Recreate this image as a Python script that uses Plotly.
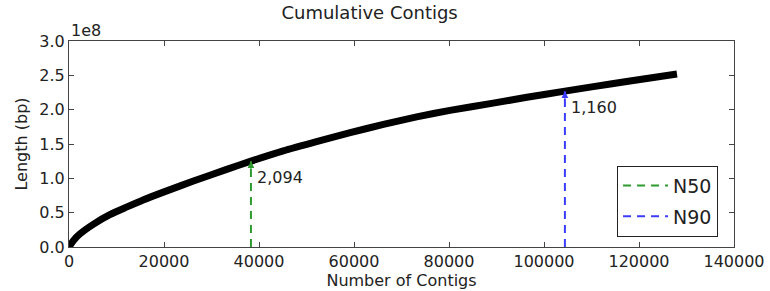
import plotly.graph_objects as go

# Cumulative contig length (bp) vs number of contigs
contig_counts = [0, 1000, 2300, 5100, 8600, 12100, 15600, 20300, 26200, 33200, 38300,
                 45100, 52100, 59200, 66200, 73200, 80200, 89300, 96400, 104400,
                 110400, 117400, 128000]
cumulative_length = [0.0, 0.10e8, 0.19e8, 0.33e8, 0.47e8, 0.58e8, 0.685e8, 0.81e8, 0.96e8,
                     1.13e8, 1.25e8, 1.40e8, 1.535e8, 1.665e8, 1.785e8, 1.895e8,
                     1.99e8, 2.095e8, 2.18e8, 2.27e8, 2.335e8, 2.41e8, 2.52e8]

marker_names = ["N50", "N90"]
marker_counts = [38300, 104400]
marker_lengths = [1.25e8, 2.27e8]
marker_labels = ["2,094", "1,160"]
marker_colors = ["#2f9a2f", "#3c3cff"]

x_ticks = [0, 20000, 40000, 60000, 80000, 100000, 120000, 140000]
y_ticks = [0, 0.5e8, 1.0e8, 1.5e8, 2.0e8, 2.5e8, 3.0e8]
y_tick_text = ["0.0", "0.5", "1.0", "1.5", "2.0", "2.5", "3.0"]

FONT = "DejaVu Sans"
TXT = "#222222"

fig = go.Figure()
fig.add_trace(go.Scatter(x=contig_counts, y=cumulative_length, mode="lines",
                         line=dict(color="black", width=7, shape="spline", smoothing=0.6),
                         showlegend=False, hoverinfo="skip"))

for name, xc, yl, lab, col in zip(marker_names, marker_counts, marker_lengths,
                                  marker_labels, marker_colors):
    fig.add_trace(go.Scatter(x=[xc, xc], y=[0, yl], mode="lines", name=name,
                             legendgroup=name,
                             line=dict(color=col, width=2, dash="8px,6px")))
    fig.add_annotation(x=xc, y=yl, ax=0, ay=9, xref="x", yref="y",
                       showarrow=True, arrowhead=2, arrowsize=0.9, arrowwidth=1.5,
                       arrowcolor=col, text="")
    fig.add_annotation(x=xc, y=yl, xref="x", yref="y", text=lab, showarrow=False,
                       xanchor="left", yanchor="top", xshift=4, yshift=-5,
                       font=dict(family=FONT, size=16, color=TXT))

fig.add_annotation(x=0, y=1, xref="paper", yref="paper", text="1e8",
                   showarrow=False, xanchor="left", yanchor="bottom", yshift=-1,
                   font=dict(family=FONT, size=16, color=TXT))

axis_common = dict(showline=True, linecolor="#444444", linewidth=1, mirror="ticks",
                   ticks="inside", ticklen=5, tickcolor="#444444", showgrid=False,
                   zeroline=False, automargin=False,
                   tickfont=dict(family=FONT, size=16, color=TXT))

fig.update_xaxes(range=[0, 140000], tickvals=x_ticks, tickformat="d",
                 title=dict(text="Number of Contigs", standoff=0,
                            font=dict(family=FONT, size=16, color=TXT)),
                 **axis_common)
fig.update_yaxes(range=[0, 3.0e8], tickvals=y_ticks, ticktext=y_tick_text,
                 title=dict(text="Length (bp)", standoff=7,
                            font=dict(family=FONT, size=16, color=TXT)),
                 **axis_common)

fig.update_layout(
    width=770, height=291,
    margin=dict(l=69, r=36, t=41, b=44, autoexpand=False),
    paper_bgcolor="white", plot_bgcolor="white",
    title=dict(text="Cumulative Contigs", x=0.48, xanchor="center", y=0.955,
               yanchor="middle", font=dict(family=FONT, size=18, color=TXT)),
    legend=dict(x=0.976, y=0.05, xanchor="right", yanchor="bottom",
                bordercolor="#222222", borderwidth=1, bgcolor="white",
                font=dict(family=FONT, size=19, color=TXT),
                itemwidth=45, tracegroupgap=3),
    showlegend=True,
)

fig.write_html("out.html", config={"displayModeBar": False},
               post_script="document.body.style.margin='0';")
